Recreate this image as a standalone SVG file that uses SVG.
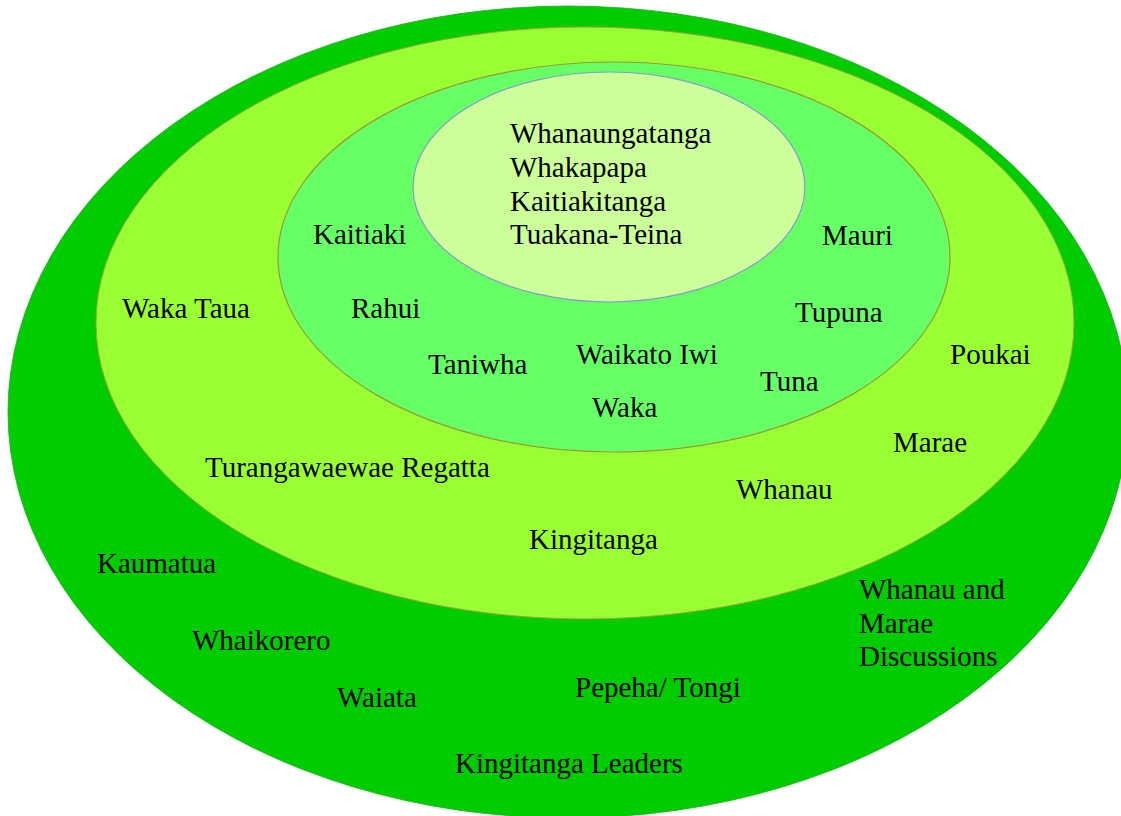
<svg xmlns="http://www.w3.org/2000/svg" width="1121" height="816" viewBox="0 0 1121 816">
<style>
text{font-family:"Liberation Serif","Times New Roman",serif;font-size:29px;fill:#000}
.l1{fill:#00CC00;stroke:#22aa22;stroke-width:0.8}
.l2{fill:#99FF33;stroke:#a0a040;stroke-width:1}
.l3{fill:#66FF66;stroke:#999933;stroke-width:1.2}
.l4{fill:#CCFF99;stroke:#8899cc;stroke-width:1.2}
</style>
<rect width="1121" height="816" fill="#ffffff"/>
<g id="ring-outer">
<ellipse class="l1" cx="568" cy="412" rx="560" ry="406"/>
</g>
<g id="ring-second">
<ellipse class="l2" cx="585" cy="323" rx="489" ry="296"/>
</g>
<g id="ring-third">
<ellipse class="l3" cx="614" cy="257" rx="336" ry="195"/>
</g>
<g id="ring-core">
<ellipse class="l4" cx="609" cy="187" rx="196" ry="115"/>
</g>
<g id="core-labels">
<text x="510" y="143">Whanaungatanga</text>
<text x="510" y="177">Whakapapa</text>
<text x="510" y="211">Kaitiakitanga</text>
<text x="510" y="244">Tuakana-Teina</text>
</g>
<g id="third-labels">
<text x="313" y="244">Kaitiaki</text>
<text x="822" y="245">Mauri</text>
<text x="351" y="318">Rahui</text>
<text x="795" y="322">Tupuna</text>
<text x="428" y="374">Taniwha</text>
<text x="576" y="364">Waikato Iwi</text>
<text x="760" y="391">Tuna</text>
<text x="592" y="417">Waka</text>
</g>
<g id="second-labels">
<text x="122" y="318">Waka Taua</text>
<text x="950" y="364">Poukai</text>
<text x="893" y="452">Marae</text>
<text x="205" y="477">Turangawaewae Regatta</text>
<text x="736" y="499">Whanau</text>
<text x="529" y="549">Kingitanga</text>
</g>
<g id="outer-labels">
<text x="97" y="573">Kaumatua</text>
<text x="192" y="650">Whaikorero</text>
<text x="337" y="707">Waiata</text>
<text x="575" y="697">Pepeha/ Tongi</text>
<text x="455" y="773">Kingitanga Leaders</text>
<text x="859" y="599">Whanau and</text>
<text x="859" y="633">Marae</text>
<text x="859" y="666">Discussions</text>
</g>
</svg>
